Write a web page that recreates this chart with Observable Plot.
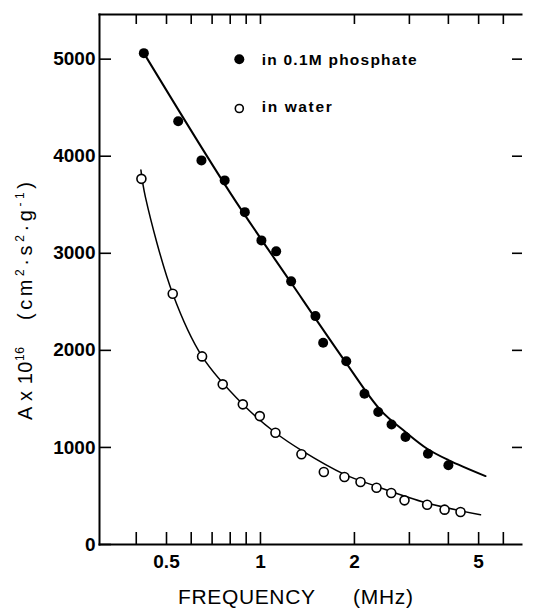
<!DOCTYPE html>
<html><head><meta charset="utf-8">
<script src="https://cdn.jsdelivr.net/npm/d3@7"></script>
<script src="https://cdn.jsdelivr.net/npm/@observablehq/plot@0.6"></script>
<style>html,body{margin:0;padding:0;background:#fff;}</style>
</head><body><div id="chart"></div>
<script>
// Measured data (frequency in MHz, A x 10^16 in cm^2 s^2 g^-1)
const phosFreq = [0.423,0.545,0.647,0.768,0.891,1.007,1.123,1.254,1.50,1.588,1.883,2.154,2.384,2.63,2.915,3.44,4.0];
const phosA    = [5062,4361,3957,3751,3424,3133,3020,2711,2353,2078,1887,1553,1365,1237,1107,935,816];
const waterFreq = [0.4155,0.5235,0.650,0.757,0.878,0.995,1.117,1.353,1.596,1.858,2.092,2.354,2.624,2.894,3.42,3.89,4.375];
const waterA    = [3767,2583,1938,1650,1444,1323,1151,929,747,695,644,585,531,455,410,359,335];
// Drawn fitted curves
const phosFitFreq = [0.423,0.801,1.254,1.883,2.424,2.915,3.43,4.0,5.26];
const phosFitA    = [5062,3620,2696,1869,1385,1159,984,870,705];
const waterFitFreq = [0.414,0.428,0.5235,0.650,0.878,1.117,1.353,1.858,2.354,3.42,5.07];
const waterFitA    = [3857,3579,2583,1938,1444,1151,970,723,599,427,306];
// Axis ticks
const xTicks = [0.4,0.5,0.6,0.7,0.8,0.9,1,2,3,4,5,6];
const xTickLabels = {"0.5":"0.5","1":"1","2":"2","5":"5"};
const yTicks = [0,1000,2000,3000,4000,5000];
const legendLabels = ["in 0.1M phosphate","in water"];

const phos = phosFreq.map((f,i)=>({f, a: phosA[i]}));
const water = waterFreq.map((f,i)=>({f, a: waterA[i]}));
const phosFit = phosFitFreq.map((f,i)=>({f, a: phosFitA[i]}));
const waterFit = waterFitFreq.map((f,i)=>({f, a: waterFitA[i]}));

const FONT = "'Liberation Sans', Arial, sans-serif";

const plot = Plot.plot({
  width: 533, height: 608,
  marginLeft: 99, marginRight: 12, marginTop: 14, marginBottom: 64,
  style: {background: "#fff", color: "#000", fontFamily: FONT},
  x: {type: "log", domain: [0.305, 6.86]},
  y: {domain: [0, 5460]},
  marks: [
    Plot.frame({anchor: "left", stroke: "#000", strokeWidth: 2}),
    Plot.frame({anchor: "top", stroke: "#000", strokeWidth: 2}),
    Plot.frame({anchor: "bottom", stroke: "#000", strokeWidth: 2}),
    Plot.axisX({anchor: "bottom", ticks: xTicks, tickSize: -12, tickPadding: 22,
      tickFormat: d => xTickLabels[String(d)] ?? "", label: null,
      fontSize: 19, fontWeight: "bold", strokeWidth: 1.6}),
    Plot.axisX({anchor: "top", ticks: xTicks, tickSize: -9, tickFormat: () => "", label: null, strokeWidth: 1.6}),
    Plot.axisY({anchor: "left", ticks: yTicks, tickSize: -12, tickPadding: 16, label: null,
      tickFormat: d => String(d), fontSize: 19, fontWeight: "bold", strokeWidth: 1.6}),
    Plot.axisY({anchor: "right", ticks: yTicks.slice(1), tickSize: -10, tickFormat: () => "", label: null, strokeWidth: 1.6}),
    Plot.line(phosFit, {x: "f", y: "a", curve: "catmull-rom", stroke: "#000", strokeWidth: 2}),
    Plot.line(waterFit, {x: "f", y: "a", curve: "catmull-rom", stroke: "#000", strokeWidth: 1.5}),
    Plot.dot(water, {x: "f", y: "a", r: 4.5, stroke: "#000", fill: "#fff", strokeWidth: 1.6}),
    Plot.dot(phos, {x: "f", y: "a", r: 5, fill: "#000", stroke: "none"})
  ]
});
document.getElementById("chart").appendChild(plot);

const svg = d3.select(plot);

// Y axis title (rotated)
const yg = svg.append("g").attr("transform", "translate(32,420) rotate(-90)")
  .attr("font-family", FONT).attr("fill", "#000").attr("text-anchor", "start");
const t1 = yg.append("text").attr("x", 0).attr("y", 0).attr("font-size", 20)
  .attr("textLength", 73).attr("lengthAdjust", "spacing");
t1.append("tspan").text("A x 10");
t1.append("tspan").attr("dy", -8).attr("font-size", 12).text("16");
const t2 = yg.append("text").attr("x", 100).attr("y", 0).attr("font-size", 20)
  .attr("textLength", 138).attr("lengthAdjust", "spacing");
t2.append("tspan").text("(cm");
t2.append("tspan").attr("dy", -8).attr("font-size", 12).text("2");
t2.append("tspan").attr("dy", 8).text("·s");
t2.append("tspan").attr("dy", -8).attr("font-size", 12).text("2");
t2.append("tspan").attr("dy", 8).text("·g");
t2.append("tspan").attr("dy", -8).attr("font-size", 12).text("-1");
t2.append("tspan").attr("dy", 8).text(")");

// X axis title
const xg = svg.append("g").attr("font-family", FONT).attr("fill", "#000").attr("font-size", 21).attr("text-anchor", "start");
xg.append("text").attr("x", 178).attr("y", 604).attr("textLength", 137).attr("lengthAdjust", "spacing").text("FREQUENCY");
xg.append("text").attr("x", 353).attr("y", 604).attr("textLength", 60).attr("lengthAdjust", "spacing").text("(MHz)");

// Legend
const lg = svg.append("g").attr("font-family", FONT).attr("font-weight", "bold").attr("font-size", 15.5).attr("fill", "#000").attr("text-anchor", "start");
lg.append("circle").attr("cx", 239.3).attr("cy", 59.3).attr("r", 5).attr("fill", "#000");
lg.append("text").attr("x", 261.7).attr("y", 65).attr("textLength", 155).attr("lengthAdjust", "spacing").text(legendLabels[0]);
lg.append("circle").attr("cx", 239.3).attr("cy", 108.5).attr("r", 4).attr("fill", "#fff").attr("stroke", "#000").attr("stroke-width", 1.6);
lg.append("text").attr("x", 261.7).attr("y", 112).attr("textLength", 70).attr("lengthAdjust", "spacing").text(legendLabels[1]);
</script>
</body></html>
